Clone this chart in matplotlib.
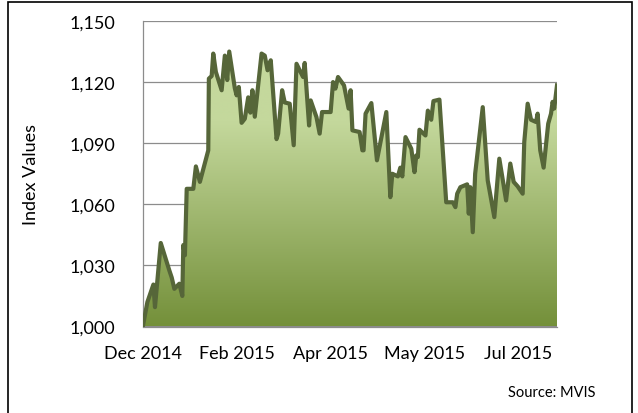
import numpy as np
import pandas as pd
import matplotlib
matplotlib.use("Agg")
import matplotlib.pyplot as plt
import matplotlib.dates as mdates
from matplotlib.patches import Rectangle

# index level (days counted from 31 Dec 2014)
start = pd.Timestamp("2014-12-31")
days = [0, 2.2, 5.2, 6.0, 8.9, 13.2, 14.4, 15.7, 18.2, 19.7, 20.2, 21.0, 21.9, 25.2,
        26.5, 28.5, 32.7, 33.0, 34.4, 35.2, 36.5, 39.4, 41.0, 42.2, 43.2, 46.0, 46.9,
        48.0, 49.4, 51.0, 52.7, 53.8, 54.8, 56.0, 59.4, 61.0, 62.4, 64.0, 66.9, 67.7,
        69.7, 71.0, 73.5, 75.5, 76.9, 79.4, 80.2, 81.0, 83.2, 84.0, 86.9, 88.5, 89.7,
        94.0, 95.2, 96.4, 97.7, 100.7, 103.0, 104.0, 104.9, 108.5, 109.9, 110.5, 111.5,
        114.4, 117.2, 121.9, 123.9, 124.9, 127.7, 128.9, 129.9, 131.5, 134.4, 136.0,
        136.9, 137.7, 138.5, 141.5, 142.7, 144.4, 145.5, 148.5, 151.9, 155.2, 156.5,
        157.4, 159.0, 162.4, 163.2, 164.0, 165.2, 166.4, 170.2, 172.7, 176.0, 178.5,
        181.9, 184.0, 185.7, 187.7, 190.2, 191.0, 192.7, 194.4, 196.9, 197.7, 199.0,
        200.7, 203.0, 204.4, 205.2, 206.0, 207.4]
values = [1000.5, 1012, 1020.6, 1009.5, 1041, 1027.5, 1024, 1018.5, 1021, 1015, 1040,
          1035, 1067.6, 1067.6, 1078.6, 1071, 1086.5, 1121.7, 1123, 1134, 1125, 1116,
          1133, 1121, 1135, 1117, 1113.5, 1117.6, 1100, 1102, 1112.5, 1105, 1116, 1103,
          1134, 1133, 1125.8, 1130.7, 1092, 1094.7, 1116, 1110, 1109.4, 1089, 1129, 1124,
          1122.5, 1129.4, 1098.7, 1111, 1102.8, 1094.7, 1105.3, 1105.3, 1120, 1116.8,
          1122.5, 1118.4, 1107, 1116, 1096.3, 1095.5, 1086.5, 1086.5, 1104.5, 1109.7,
          1081.6, 1105.3, 1063.5, 1075, 1073.7, 1078, 1073.7, 1093, 1087.3, 1075.8, 1084,
          1083.2, 1096.6, 1093.8, 1106, 1101.5, 1110.7, 1111.4, 1061, 1061, 1058.6,
          1065.2, 1068.4, 1069.8, 1055.4, 1068.4, 1046.3, 1075, 1107.7, 1071.7, 1053.7,
          1082.4, 1061.9, 1080, 1071, 1068.8, 1065.2, 1090.6, 1109.4, 1101.5, 1100.4,
          1104.5, 1086.5, 1078, 1099.6, 1104.5, 1110.3, 1107, 1118.4]
tick_days = [0, 47, 94, 141, 188]
y_ticks = [1000, 1030, 1060, 1090, 1120, 1150]

plt.rcParams['font.family'] = ['Lato', 'DejaVu Sans']

dates = start + pd.to_timedelta(days, unit="D")
x = mdates.date2num(dates)
y = np.array(values)

fig = plt.figure(figsize=(6.38, 4.14), dpi=100)
ax = fig.add_axes([143 / 638, 1 - 327.5 / 414, 414 / 638, 305.5 / 414])

ax.set_ylim(1000, 1150)
ax.set_xlim(x[0], x[-1])

# gradient fill clipped to the area under the line
fill = ax.fill_between(x, y, 1000, color="none")
light = np.array([0xc4, 0xd8, 0x9c]) / 255
dark = np.array([0x74, 0x90, 0x3a]) / 255
rows = np.linspace(1150, 1000, 300)
t = np.clip((1100 - rows) / 100, 0, 1)[:, None]
grad = (light * (1 - t) + dark * t)[:, None, :]
im = ax.imshow(grad, extent=[x[0], x[-1], 1000, 1150], aspect="auto", zorder=1)
im.set_clip_path(fill.get_paths()[0], transform=ax.transData)

ax.plot(x, y, color="#566639", lw=3.0, solid_joinstyle="round", zorder=3)

ax.set_yticks(y_ticks)
ax.set_yticklabels([f"{v:,}" for v in y_ticks])
ax.grid(axis="y", color="#8c8c8c", lw=0.9, zorder=0)
ax.set_axisbelow(True)
ax.set_xticks(mdates.date2num(start + pd.to_timedelta(tick_days, unit="D")))
ax.xaxis.set_major_formatter(mdates.DateFormatter("%b %Y"))
ax.tick_params(length=0, labelsize=13, colors="black")
ax.tick_params(axis="y", pad=20)
ax.tick_params(axis="x", pad=13)
for s in ["top", "right"]:
    ax.spines[s].set_visible(False)
for s in ["left", "bottom"]:
    ax.spines[s].set_color("#8c8c8c")
    ax.spines[s].set_linewidth(0.9)

ax.set_ylabel("Index Values", fontsize=13)
ax.yaxis.set_label_coords(-0.252, 0.5)

fig.text(596 / 638, 1 - 393 / 414, "Source: MVIS", ha="right", va="center", fontsize=10.5)
fig.patches.append(Rectangle((8 / 638, -0.05), 624 / 638, 1.05 - 3 / 414, fill=False,
                             edgecolor="black", lw=1.2, transform=fig.transFigure))

fig.savefig("out.png", dpi=100)
